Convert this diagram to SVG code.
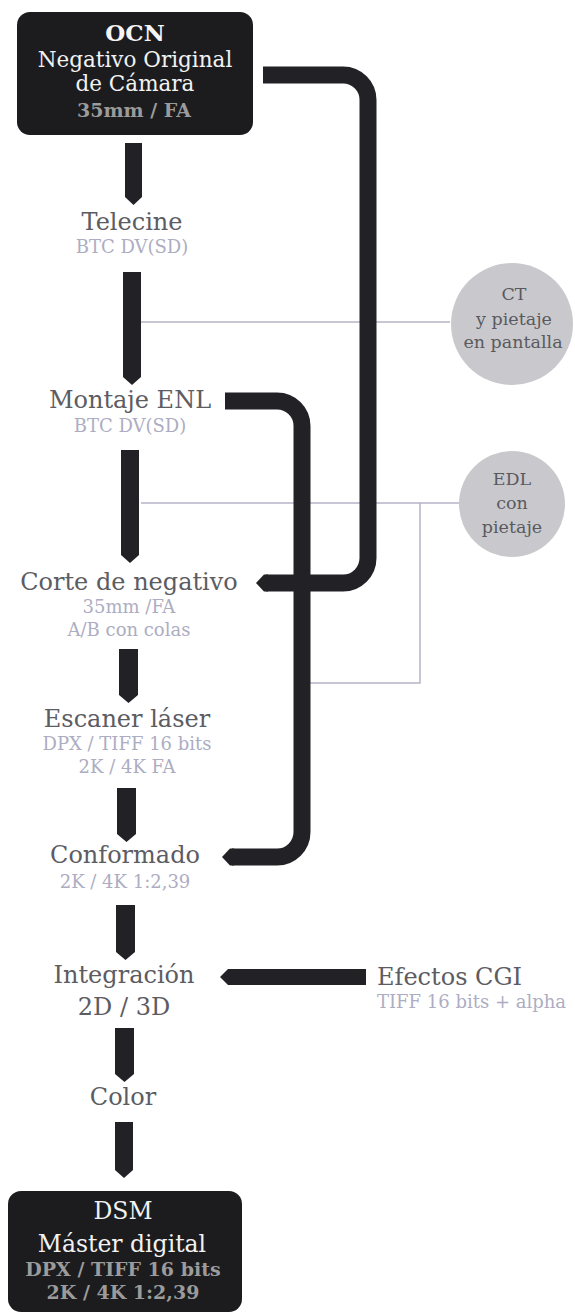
<svg xmlns="http://www.w3.org/2000/svg" width="575" height="1314" viewBox="0 0 575 1314">
<style>
text{font-family:"DejaVu Serif","Liberation Serif",serif;text-anchor:middle}
.main{font-size:24px;fill:#5c5c62}
.sub{font-size:18px;fill:#adadc2}
.box{fill:#1c1c1f}
.wt{fill:#f2f2f2;font-size:21.5px}
.wl{fill:#f2f2f2;font-size:23.5px}
.bt{fill:#9b9b9b;font-size:19px;font-weight:bold}
.bar{fill:#222226}
.conn{fill:none;stroke:#222226;stroke-width:17}
.thin{fill:none;stroke:#b4b4c6;stroke-width:1.5}
.circ{fill:#c9c9cd}
.ct{font-size:17.5px;fill:#5a5a5e}
</style>
<rect width="575" height="1314" fill="#ffffff"/>

<g id="connectors">
  <path class="thin" d="M141 322H450"/>
  <path class="thin" d="M141 503H460M420 503V683H302"/>
  <path class="conn" d="M263 75H343A25 25 0 0 1 368 100V558A25 25 0 0 1 343 583H266"/>
  <polygon class="bar" points="268,574.5 264,574.5 256,583 264,591.5 268,591.5"/>
  <path class="conn" d="M225 401H277A25 25 0 0 1 302 426V832A25 25 0 0 1 277 857H232"/>
  <polygon class="bar" points="234,848.5 230,848.5 222,857 230,865.5 234,865.5"/>
  <polygon class="bar" points="366,969 228,969 220,977 228,985 366,985"/>
  <polygon class="bar" points="125,143 142,143 142,197 133.5,205 125,197"/>
  <polygon class="bar" points="123,272 141,272 141,377 132,385 123,377"/>
  <polygon class="bar" points="121,450 139,450 139,555 130,563 121,555"/>
  <polygon class="bar" points="119,649 138,649 138,695 128.5,703 119,695"/>
  <polygon class="bar" points="117,788 136,788 136,834 126.5,842 117,834"/>
  <polygon class="bar" points="116,905 135,905 135,952 125.5,960 116,952"/>
  <polygon class="bar" points="115,1028 134,1028 134,1074 124.5,1082 115,1074"/>
  <polygon class="bar" points="115,1122 133,1122 133,1170 124,1178 115,1170"/>
</g>

<g id="ocn">
  <rect class="box" x="17" y="12" width="236" height="123" rx="13"/>
  <text x="135" y="41" style="font-size:23px;font-weight:bold;fill:#f5f5f5">OCN</text>
  <text class="wt" x="135" y="67">Negativo Original</text>
  <text class="wt" x="135" y="91">de Cámara</text>
  <text class="bt" x="134" y="117">35mm / FA</text>
</g>

<g id="telecine">
  <text class="main" x="132" y="230">Telecine</text>
  <text class="sub" x="132" y="253">BTC DV(SD)</text>
</g>

<g id="ct">
  <circle class="circ" cx="512" cy="324" r="61"/>
  <text class="ct" x="514" y="300">CT</text>
  <text class="ct" x="514" y="325">y pietaje</text>
  <text class="ct" x="513" y="348">en pantalla</text>
</g>

<g id="montaje">
  <text class="main" x="130" y="408">Montaje ENL</text>
  <text class="sub" x="130" y="432">BTC DV(SD)</text>
</g>

<g id="edl">
  <circle class="circ" cx="512" cy="504" r="53"/>
  <text class="ct" x="512" y="485">EDL</text>
  <text class="ct" x="512" y="509">con</text>
  <text class="ct" x="512" y="533">pietaje</text>
</g>

<g id="corte">
  <text class="main" x="129" y="590">Corte de negativo</text>
  <text class="sub" x="129" y="613">35mm /FA</text>
  <text class="sub" x="129" y="636">A/B con colas</text>
</g>

<g id="escaner">
  <text class="main" x="127" y="727">Escaner láser</text>
  <text class="sub" x="127" y="750">DPX / TIFF 16 bits</text>
  <text class="sub" x="127" y="773">2K / 4K FA</text>
</g>

<g id="conformado">
  <text class="main" x="125" y="863">Conformado</text>
  <text class="sub" x="125" y="888">2K / 4K 1:2,39</text>
</g>

<g id="integracion">
  <text class="main" x="124" y="983">Integración</text>
  <text class="main" x="124" y="1015">2D / 3D</text>
</g>

<g id="efectos">
  <text class="main" x="377" y="985" style="text-anchor:start">Efectos CGI</text>
  <text class="sub" x="377" y="1008" style="text-anchor:start">TIFF 16 bits + alpha</text>
</g>

<g id="color">
  <text class="main" x="123" y="1105">Color</text>
</g>

<g id="dsm">
  <rect class="box" x="8" y="1191" width="234" height="121" rx="13"/>
  <text class="wl" x="123" y="1219">DSM</text>
  <text class="wl" x="122" y="1252">Máster digital</text>
  <text class="bt" x="123" y="1276">DPX / TIFF 16 bits</text>
  <text class="bt" x="123" y="1299">2K / 4K 1:2,39</text>
</g>
</svg>
